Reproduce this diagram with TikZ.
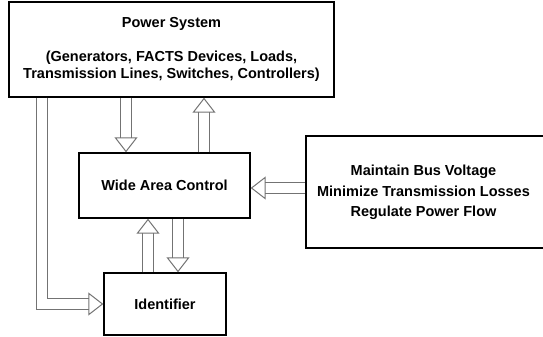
\documentclass[tikz,border=0pt]{standalone}
\usepackage{fontspec}
\setmainfont{Liberation Sans}
\usetikzlibrary{arrows.meta}

\begin{document}
\begin{tikzpicture}[x=1pt, y=-1pt,
    box/.style={draw=black, line width=1.4pt, rectangle, align=center, inner sep=0pt,
      font=\bfseries\fontsize{14.5}{17}\selectfont},
    flow/.style={draw=black!55, line width=1pt, double=white, double distance=10pt,
      line join=miter, -{Triangle[open, length=15pt, width=23pt, line width=1pt]}}]
    \useasboundingbox (0,0) rectangle (543,337);
    % blocks
    \node[box, minimum width=325pt, minimum height=95pt] (ps) at (171.5,49.5)
      {Power System\\ \\ (Generators, FACTS Devices, Loads,\\ Transmission Lines, Switches, Controllers)};
    \node[box, minimum width=171pt, minimum height=65pt] (wac) at (164.5,185.5) {Wide Area Control};
    \node[box, minimum width=122pt, minimum height=62pt] (ident) at (165,304) {Identifier};
    \node[box, minimum width=247pt, minimum height=112pt, font=\bfseries\fontsize{14.5}{20.5}\selectfont]
      (goals) at (429.5,192)
      {\begin{tabular}{@{}c@{}}Maintain Bus Voltage\\ Minimize Transmission Losses\\ Regulate Power Flow\end{tabular}\hspace*{12pt}};
    % hollow arrows
    \draw[flow] (126,0 |- ps.south) -- (126,0 |- wac.north);
    \draw[flow] (204,0 |- wac.north) -- (204,0 |- ps.south);
    \draw[flow] (goals.west |- 0,188) -- (wac.east |- 0,188);
    \draw[flow] (148,0 |- ident.north) -- (148,0 |- wac.south);
    \draw[flow] (178,0 |- wac.south) -- (178,0 |- ident.north);
    \draw[flow] (42,0 |- ps.south) |- (ident.west);
\end{tikzpicture}
\end{document}
